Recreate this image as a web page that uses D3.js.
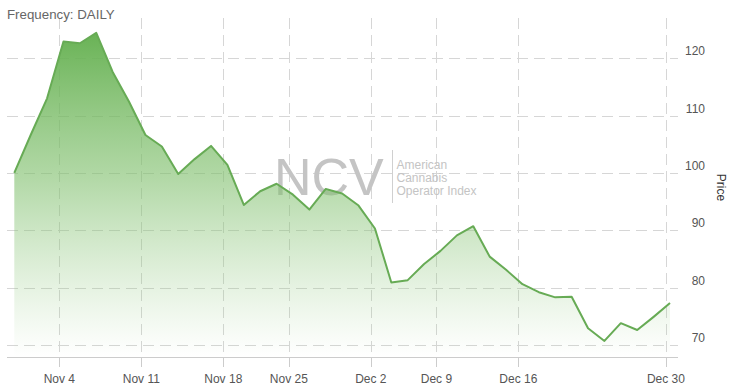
<!DOCTYPE html>
<html>
<head>
<meta charset="utf-8">
<script src="https://cdn.jsdelivr.net/npm/d3@7"></script>
<style>
  html, body { margin: 0; padding: 0; background: #fff; }
  svg { display: block; font-family: "Liberation Sans", Arial, sans-serif; }
</style>
</head>
<body>
<div id="container"></div>
<script>
// trading days shown on the chart (ordinal axis, weekends and holidays skipped)
const dates = [
  'Oct 30', 'Oct 31', 'Nov 1', 'Nov 4', 'Nov 5', 'Nov 6', 'Nov 7', 'Nov 8',
  'Nov 11', 'Nov 12', 'Nov 13', 'Nov 14', 'Nov 15', 'Nov 18', 'Nov 19', 'Nov 20',
  'Nov 21', 'Nov 25', 'Nov 26', 'Nov 27', 'Nov 28', 'Nov 29', 'Dec 2', 'Dec 3',
  'Dec 4', 'Dec 5', 'Dec 9', 'Dec 10', 'Dec 11', 'Dec 12', 'Dec 13', 'Dec 16',
  'Dec 17', 'Dec 18', 'Dec 19', 'Dec 20', 'Dec 23', 'Dec 24', 'Dec 26', 'Dec 27',
  'Dec 30'
];
const prices = [
  100.0, 106.6, 113.0, 122.9, 122.6, 124.4, 117.6, 112.4,
  106.6, 104.6, 99.8, 102.4, 104.7, 101.4, 94.4, 96.8,
  98.1, 96.2, 93.6, 97.2, 96.4, 94.3, 90.3, 80.9,
  81.3, 84.1, 86.4, 89.1, 90.7, 85.4, 83.1, 80.6,
  79.2, 78.3, 78.4, 72.9, 70.7, 73.8, 72.6, 74.9,
  77.3
];
const xTickLabels = ['Nov 4', 'Nov 11', 'Nov 18', 'Nov 25', 'Dec 2', 'Dec 9', 'Dec 16', 'Dec 30'];
const yTicks = [70, 80, 90, 100, 110, 120];
const yDomain = [67.9, 127.0];

const width = 731;
const height = 388;
const plot = { left: 7, right: 678, top: 18, bottom: 357 };

const svg = d3.select('#container')
  .append('svg')
  .attr('width', width)
  .attr('height', height);

const x = d3.scaleLinear()
  .domain([0, dates.length - 1])
  .range([14.3, 670]);

const y = d3.scaleLinear()
  .domain(yDomain)
  .range([plot.bottom, plot.top]);

// midnight ticks fall a little before the day's point on the ordinal axis
const tickPos = (label) => x(dates.indexOf(label) - 0.25);

const defs = svg.append('defs');
const grad = defs.append('linearGradient')
  .attr('id', 'areaFill')
  .attr('x1', 0).attr('y1', 0)
  .attr('x2', 0).attr('y2', 1);
grad.append('stop').attr('offset', '0%').attr('stop-color', '#66b152').attr('stop-opacity', 0.98);
grad.append('stop').attr('offset', '45%').attr('stop-color', '#7fbf6c').attr('stop-opacity', 0.6);
grad.append('stop').attr('offset', '100%').attr('stop-color', '#9fd08f').attr('stop-opacity', 0.0);

// horizontal grid
svg.append('g')
  .attr('class', 'y-grid')
  .selectAll('line')
  .data(yTicks)
  .join('line')
  .attr('x1', plot.left)
  .attr('x2', plot.right)
  .attr('y1', d => Math.round(y(d)) + 0.5)
  .attr('y2', d => Math.round(y(d)) + 0.5)
  .attr('stroke', '#d6d6d6')
  .attr('stroke-dasharray', '11,6');

// vertical grid
svg.append('g')
  .attr('class', 'x-grid')
  .selectAll('line')
  .data(xTickLabels)
  .join('line')
  .attr('x1', d => Math.round(tickPos(d)) + 0.5)
  .attr('x2', d => Math.round(tickPos(d)) + 0.5)
  .attr('y1', plot.top)
  .attr('y2', plot.bottom)
  .attr('stroke', '#d6d6d6')
  .attr('stroke-dasharray', '11,6');

// watermark
const wm = svg.append('g').attr('class', 'watermark');
wm.append('text')
  .attr('x', 274)
  .attr('y', 195)
  .attr('font-size', 52)
  .attr('fill', '#c4c4c4')
  .text('NCV');
wm.append('line')
  .attr('x1', 392.5).attr('x2', 392.5)
  .attr('y1', 150).attr('y2', 203)
  .attr('stroke', '#d0d0d0');
wm.selectAll('.wmLine')
  .data(['American', 'Cannabis', 'Operator Index'])
  .join('text')
  .attr('class', 'wmLine')
  .attr('x', 396.5)
  .attr('y', (d, i) => 168.5 + i * 13)
  .attr('font-size', 12)
  .attr('fill', '#c4c4c4')
  .text(d => d);

// area + line
const area = d3.area()
  .x((d, i) => x(i))
  .y0(plot.bottom)
  .y1(d => y(d));

const line = d3.line()
  .x((d, i) => x(i))
  .y(d => y(d));

svg.append('path')
  .datum(prices)
  .attr('d', area)
  .attr('fill', 'url(#areaFill)');

svg.append('path')
  .datum(prices)
  .attr('d', line)
  .attr('fill', 'none')
  .attr('stroke', '#67ab55')
  .attr('stroke-width', 2)
  .attr('stroke-linejoin', 'round');

// x axis
const xAxis = svg.append('g').attr('class', 'x-axis');
xAxis.append('line')
  .attr('x1', plot.left)
  .attr('x2', plot.right)
  .attr('y1', plot.bottom + 0.5)
  .attr('y2', plot.bottom + 0.5)
  .attr('stroke', '#cccccc');
xAxis.selectAll('.tick')
  .data(xTickLabels)
  .join('line')
  .attr('class', 'tick')
  .attr('x1', d => Math.round(tickPos(d)) + 0.5)
  .attr('x2', d => Math.round(tickPos(d)) + 0.5)
  .attr('y1', plot.bottom)
  .attr('y2', plot.bottom + 10)
  .attr('stroke', '#cccccc');
xAxis.selectAll('.label')
  .data(xTickLabels)
  .join('text')
  .attr('class', 'label')
  .attr('x', d => tickPos(d))
  .attr('y', 383)
  .attr('text-anchor', 'middle')
  .attr('font-size', 12)
  .attr('fill', '#555')
  .text(d => d);

// y axis on the right
svg.append('g')
  .attr('class', 'y-axis')
  .selectAll('text')
  .data(yTicks)
  .join('text')
  .attr('x', 705)
  .attr('y', d => y(d) - 3)
  .attr('text-anchor', 'end')
  .attr('font-size', 12)
  .attr('fill', '#555')
  .text(d => d);

svg.append('text')
  .attr('transform', `translate(717, ${(plot.top + plot.bottom) / 2}) rotate(90)`)
  .attr('text-anchor', 'middle')
  .attr('font-size', 12)
  .attr('fill', '#333')
  .text('Price');

svg.append('text')
  .attr('x', 7)
  .attr('y', 19)
  .attr('font-size', 13.3)
  .attr('fill', '#666')
  .text('Frequency: DAILY');
</script>
</body>
</html>
